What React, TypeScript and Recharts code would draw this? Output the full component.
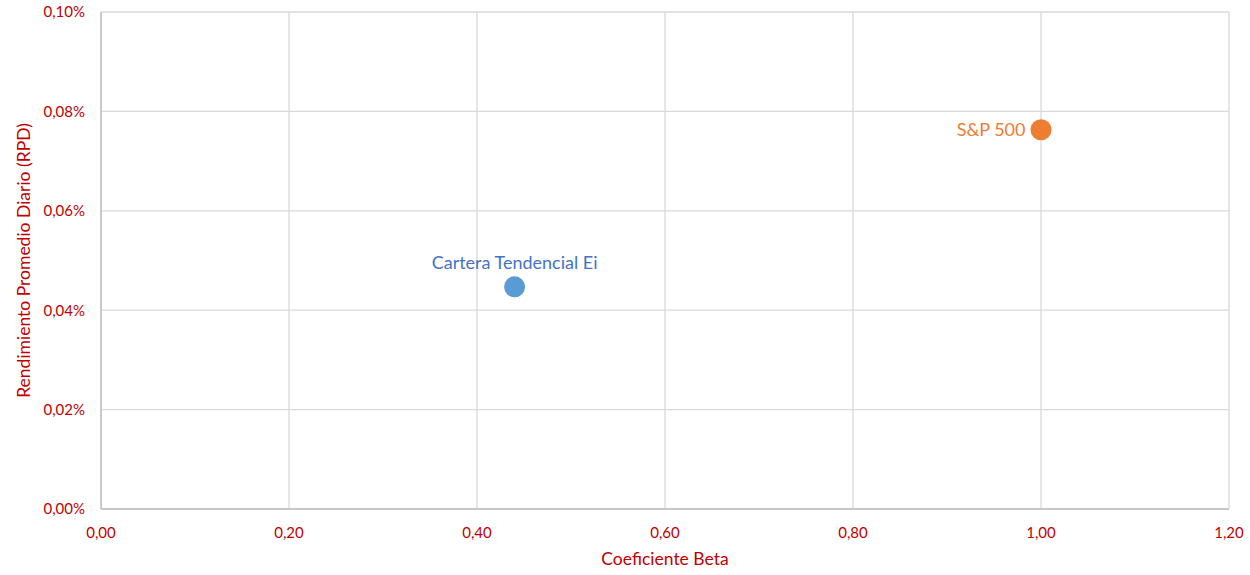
import React from 'react';
import { ScatterChart, Scatter, XAxis, YAxis, ZAxis, CartesianGrid, LabelList } from 'recharts';

const carteraData = [{ beta: 0.44, rpd: 0.0447, z: 1, name: 'Cartera Tendencial Ei' }];
const spData = [{ beta: 1.0, rpd: 0.0763, z: 1, name: 'S&P 500' }];
const xTicks = [0, 0.2, 0.4, 0.6, 0.8, 1.0, 1.2];
const yTicks = [0, 0.02, 0.04, 0.06, 0.08, 0.1];

const RED = '#C00000';
const FONT = 'Lato, "Open Sans", sans-serif';
const R = 10.5;

const fmtX = (v: number) => v.toFixed(2).replace('.', ',');
const fmtY = (v: number) => v.toFixed(2).replace('.', ',') + '%';

const dot = (color: string) => (props: any) => (
  <circle cx={props.cx} cy={props.cy} r={R} fill={color} />
);

const topLabel = (props: any) => {
  const { x, y, width, value } = props;
  const cx = x + width / 2;
  return (
    <text x={cx} y={y - 7} textAnchor="middle" fill="#4472C4" fontSize={18} fontFamily={FONT}>
      {value}
    </text>
  );
};

const leftLabel = (props: any) => {
  const { x, y, height, value } = props;
  return (
    <text x={x - 5} y={y + height / 2} dy="0.35em" textAnchor="end" fill="#ED7D31" fontSize={18} fontFamily={FONT}>
      {value}
    </text>
  );
};

export default function App() {
  return (
    <div style={{ position: 'absolute', left: 0, top: 0, width: 1250, height: 575, background: '#fff', fontFamily: FONT }}>
      <ScatterChart width={1250} height={575} margin={{ top: 12, right: 21, bottom: 10, left: 0 }}>
        <CartesianGrid stroke="#D9D9D9" strokeWidth={1.3} />
        <XAxis
          type="number"
          dataKey="beta"
          domain={[0, 1.2]}
          ticks={xTicks}
          tickFormatter={fmtX}
          tickLine={false}
          tickSize={0}
          tickMargin={18}
          height={56}
          axisLine={{ stroke: '#BFBFBF', strokeWidth: 1.5 }}
          tick={{ fill: RED, fontSize: 15, fontFamily: FONT }}
          label={{ value: 'Coeficiente Beta', position: 'insideBottom', offset: 0, fill: RED, fontSize: 17.5, fontFamily: FONT }}
        />
        <YAxis
          type="number"
          dataKey="rpd"
          domain={[0, 0.1]}
          ticks={yTicks}
          tickFormatter={fmtY}
          tickLine={false}
          tickSize={0}
          tickMargin={16}
          width={101}
          axisLine={{ stroke: '#BFBFBF', strokeWidth: 1.5 }}
          tick={{ fill: RED, fontSize: 15, fontFamily: FONT }}
          label={{ value: 'Rendimiento Promedio Diario (RPD)', angle: -90, position: 'insideLeft', offset: 24, fill: RED, fontSize: 17.5, fontFamily: FONT, style: { textAnchor: 'middle' } }}
        />
        <ZAxis dataKey="z" range={[346, 346]} />
        <Scatter data={carteraData} fill="#5B9BD5" shape={dot('#5B9BD5')} isAnimationActive={false}>
          <LabelList dataKey="name" content={topLabel} />
        </Scatter>
        <Scatter data={spData} fill="#ED7D31" shape={dot('#ED7D31')} isAnimationActive={false}>
          <LabelList dataKey="name" content={leftLabel} />
        </Scatter>
      </ScatterChart>
    </div>
  );
}
